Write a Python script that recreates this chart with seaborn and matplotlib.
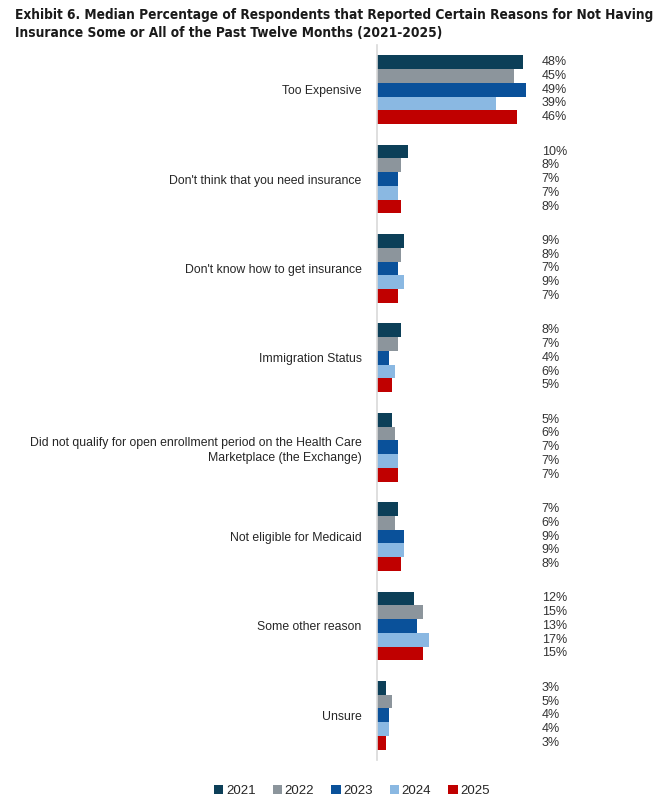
import pandas as pd
import numpy as np
import matplotlib
matplotlib.use('Agg')
import matplotlib.pyplot as plt
from matplotlib import font_manager
import seaborn as sns

# 데이터
reasons = ['Too Expensive',
           "Don't think that you need insurance",
           "Don't know how to get insurance",
           'Immigration Status',
           'Did not qualify for open enrollment period on the Health Care\nMarketplace (the Exchange)',
           'Not eligible for Medicaid',
           'Some other reason',
           'Unsure']
years = ['2021', '2022', '2023', '2024', '2025']
v2021 = [48, 10, 9, 8, 5, 7, 12, 3]
v2022 = [45, 8, 8, 7, 6, 6, 15, 5]
v2023 = [49, 7, 7, 4, 7, 9, 13, 4]
v2024 = [39, 7, 9, 6, 7, 9, 17, 4]
v2025 = [46, 8, 7, 5, 7, 8, 15, 3]
colors = ['#0c3f58', '#8c959c', '#0a519a', '#8ab8e2', '#c00000']

rows = []
for yr, vals in zip(years, [v2021, v2022, v2023, v2024, v2025]):
    for r, v in zip(reasons, vals):
        rows.append({'reason': r, 'year': yr, 'value': v})
df = pd.DataFrame(rows)

sns.set_style('white')
plt.rcParams['font.family'] = ['Liberation Sans', 'DejaVu Sans']

# 제목용 좁은 굵은 글꼴 찾기
title_font = None
sys_fonts = font_manager.findSystemFonts()
for key, size in [('LiberationSansNarrow-Bold.', 10.9), ('DejaVuSansCondensed-Bold.', 9.8)]:
    hits = [f for f in sys_fonts if key in f.split('/')[-1]]
    if hits:
        title_font = font_manager.FontProperties(fname=hits[0], size=size)
        break
if title_font is None:
    title_font = font_manager.FontProperties(family=['Liberation Sans', 'DejaVu Sans'],
                                             weight='bold', size=9.5)

fig = plt.figure(figsize=(6.72, 8.06), dpi=100)
ax = fig.add_axes([377 / 672, 1 - 760 / 806, 295 / 672, 715 / 806])

sns.barplot(data=df, y='reason', x='value', hue='year', order=reasons,
            hue_order=years, palette=colors, width=0.77, orient='h',
            saturation=1, ax=ax, legend=True, edgecolor='none')

ax.set_xlim(0, 295 / 3.05)
ax.set_ylim(7.5, -0.5)
ax.set_xlabel('')
ax.set_ylabel('')
ax.set_xticks([])
for s in ['top', 'right', 'bottom']:
    ax.spines[s].set_visible(False)
ax.spines['left'].set_color('#d9d9d9')
ax.spines['left'].set_linewidth(1.2)
ax.tick_params(axis='y', length=0, pad=11, labelcolor='#262626')
for lab in ax.get_yticklabels():
    lab.set_fontsize(8.8)
    lab.set_multialignment('right')
    lab.set_linespacing(1.35)

# 값 라벨
for cont in ax.containers:
    for bar in cont:
        w = bar.get_width()
        yc = bar.get_y() + bar.get_height() / 2
        ax.text(54, yc, f'{w:.0f}%', va='center', ha='left', fontsize=9,
                color='#333333')

handles, labels = ax.get_legend_handles_labels()
ax.get_legend().remove()
fig.legend(handles, labels, loc='center', bbox_to_anchor=(352 / 672, 1 - 791 / 806),
           ncol=5, frameon=False, handlelength=0.7, handleheight=0.7,
           handletextpad=0.2, columnspacing=1.3, prop={'size': 9.5})

fig.text(15 / 672, 1 - 24 / 806,
         'Exhibit 6. Median Percentage of Respondents that Reported Certain Reasons for Not Having\n'
         'Insurance Some or All of the Past Twelve Months (2021-2025)',
         fontproperties=title_font, va='center', ha='left', color='#1a1a1a',
         linespacing=1.45)

fig.savefig('out.png', dpi=100)
